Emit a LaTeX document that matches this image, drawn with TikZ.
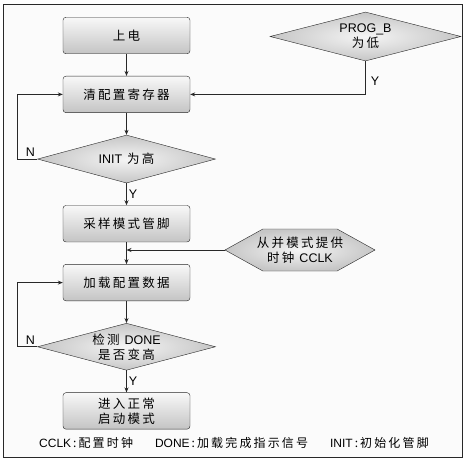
\documentclass[tikz,border=0pt]{standalone}
\usepackage{fontspec}
\setmainfont{Noto Sans CJK SC}
\newfontfamily\cjkfont[LetterSpace=18]{Noto Sans CJK SC}
\newfontfamily\latfont{Liberation Sans}
\usepackage{tikz}
\usetikzlibrary{arrows.meta,positioning,shapes.geometric,shapes.symbols}
\definecolor{flowline}{RGB}{40, 40, 40}
\definecolor{boxtop}{RGB}{248, 248, 248}
\definecolor{boxbottom}{RGB}{196, 196, 196}
\definecolor{panelbg}{RGB}{251, 251, 251}
\newcommand{\lat}[1]{{\latfont #1}}
\tikzset{
  stepbox/.style={
    draw=flowline,
    rounded corners=3pt,
    top color=boxtop,
    bottom color=boxbottom,
    align=center,
    minimum width=127pt,
    minimum height=36.5pt,
    inner sep=2pt,
    font=\fontsize{12.5}{15}\cjkfont
  },
  testbox/.style={
    draw=flowline,
    diamond,
    aspect=3.7,
    shading=radial,
    inner color=gray!8,
    outer color=gray!45,
    align=center,
    minimum width=178pt,
    minimum height=48pt,
    inner sep=-3pt,
    font=\fontsize{12.5}{15}\cjkfont
  },
  clockbox/.style={
    draw=flowline,
    signal,
    signal to=west and east,
    signal pointer angle=58,
    shading=radial,
    inner color=gray!8,
    outer color=gray!45,
    align=center,
    minimum width=150pt,
    minimum height=42pt,
    inner xsep=-7pt,
    inner ysep=1pt,
    font=\fontsize{12.5}{15}\cjkfont
  },
  flowarrow/.style={
    -{Stealth[length=5pt,width=4pt]},
    draw=flowline,
    line width=0.8pt
  },
  yesno/.style={
    font=\fontsize{12.5}{15}\latfont,
    inner sep=2pt
  }
}
\begin{document}
\begin{tikzpicture}[x=1pt,y=1pt,node distance=22pt]
  \useasboundingbox (0,0) rectangle (469,-463);
  \draw[flowline, fill=panelbg, line width=0.8pt] (3,-4) rectangle (462,-457);

  % main column
  \node[stepbox] (power) at (126.5,-35.5) {上电};
  \node[stepbox, below=of power] (clear) {清配置寄存器};
  \node[testbox, below=of clear] (init) {\lat{INIT} 为高};
  \node[stepbox, below=of init] (sample) {采样模式管脚};
  \node[stepbox, below=of sample] (load) {加载配置数据};
  \node[testbox, minimum height=47pt, below=of load] (done) {检测 \lat{DONE}\\是否变高};
  \node[stepbox, below=of done] (boot) {进入正常\\启动模式};

  % side inputs
  \node[testbox, minimum width=191pt, minimum height=49pt] (prog) at (365.5,-36.5) {\lat{PROG\_B}\\为低};
  \node[clockbox] (clk) at (300,-250) {从并模式提供\\时钟 \lat{CCLK}};
  \coordinate (clkjoin) at (sample.south |- clk.west);

  \draw[flowarrow] (power) -- (clear);
  \draw[flowarrow] (clear) -- (init);
  \draw[flowarrow] (init) -- node[yesno, right, pos=0.5] {Y} (sample);
  \draw[flowarrow] (init.west) -- node[yesno, above, pos=0.35] {N} ++(-20,0) |- (clear.west);
  \draw[flowarrow] (prog.south) |- node[yesno, right, pos=0.3, xshift=3pt] {Y} (clear.east);
  \draw[flowarrow] (sample) -- (load);
  \draw[flowarrow] (clk.west) -- (clkjoin);
  \draw[flowarrow] (load) -- (done);
  \draw[flowarrow] (done) -- node[yesno, right, pos=0.5] {Y} (boot);
  \draw[flowarrow] (done.west) -- node[yesno, above, pos=0.35] {N} ++(-20,0) |- (load.west);

  % legend
  \node[font=\fontsize{12}{14}\cjkfont] (legend) at (234,-443)
    {\lat{CCLK}\,:\,配置时钟\hspace{22pt}\lat{DONE}\,:\,加载完成指示信号\hspace{22pt}\lat{INIT}\,:\,初始化管脚};
\end{tikzpicture}
\end{document}
